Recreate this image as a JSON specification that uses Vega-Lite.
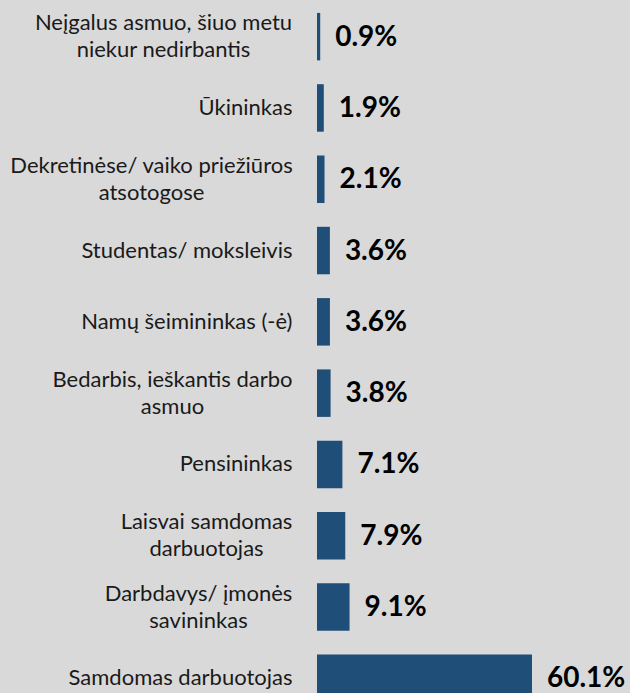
{
  "$schema": "https://vega.github.io/schema/vega-lite/v6.json",
  "width": 313,
  "height": 713,
  "autosize": {"type": "none"},
  "padding": {"left": 317, "top": 1, "right": 0, "bottom": 0},
  "background": "#d9d9d9",
  "config": {"view": {"stroke": null}},
  "data": {
    "values": [
      {"label": "Neįgalus asmuo, šiuo metu|niekur nedirbantis", "value": 0.009},
      {"label": "Ūkininkas", "value": 0.019},
      {"label": "Dekretinėse/ vaiko priežiūros|atsotogose", "value": 0.021},
      {"label": "Studentas/ moksleivis", "value": 0.036},
      {"label": "Namų šeimininkas (-ė)", "value": 0.0361},
      {"label": "Bedarbis, ieškantis darbo|asmuo", "value": 0.038},
      {"label": "Pensininkas", "value": 0.071},
      {"label": "Laisvai samdomas|darbuotojas", "value": 0.079},
      {"label": "Darbdavys/ įmonės|savininkas", "value": 0.091},
      {"label": "Samdomas darbuotojas", "value": 0.601}
    ]
  },
  "encoding": {
    "y": {
      "field": "label",
      "type": "nominal",
      "sort": null,
      "scale": {"paddingInner": 0.334, "paddingOuter": 0.167},
      "axis": {
        "title": null,
        "domain": false,
        "ticks": false,
        "grid": false,
        "labelFont": "Lato",
        "labelFontSize": 22,
        "labelColor": "#1a1a1a",
        "labelLimit": 400,
        "labelLineHeight": 27,
        "labelAlign": {"condition": {"test": "indexof(datum.label, '|') >= 0", "value": "center"}, "value": "right"},
        "labelOffset": {"condition": {"test": "indexof(datum.label, '|') >= 0", "value": -13.5}, "value": 0},
        "labelPadding": {
          "condition": [
            {"test": "indexof(datum.label, 'Neįgalus') >= 0", "value": 154},
            {"test": "indexof(datum.label, 'Dekretinėse') >= 0", "value": 166},
            {"test": "indexof(datum.label, 'Bedarbis') >= 0", "value": 145},
            {"test": "indexof(datum.label, 'Laisvai') >= 0", "value": 111},
            {"test": "indexof(datum.label, 'Darbdavys') >= 0", "value": 119}
          ],
          "value": 25
        },
        "labelExpr": "split(datum.label, '|')"
      }
    },
    "x": {
      "field": "value",
      "type": "quantitative",
      "scale": {"domain": [0, 0.875]},
      "axis": null
    }
  },
  "layer": [
    {"mark": {"type": "bar", "color": "#1f4e79"}},
    {
      "mark": {"type": "text", "align": "left", "baseline": "middle", "dx": 15, "dy": 1, "font": "Lato", "fontWeight": "bold", "fontSize": 28, "color": "#000000"},
      "encoding": {"text": {"field": "value", "type": "quantitative", "format": ".1%"}}
    }
  ]
}
